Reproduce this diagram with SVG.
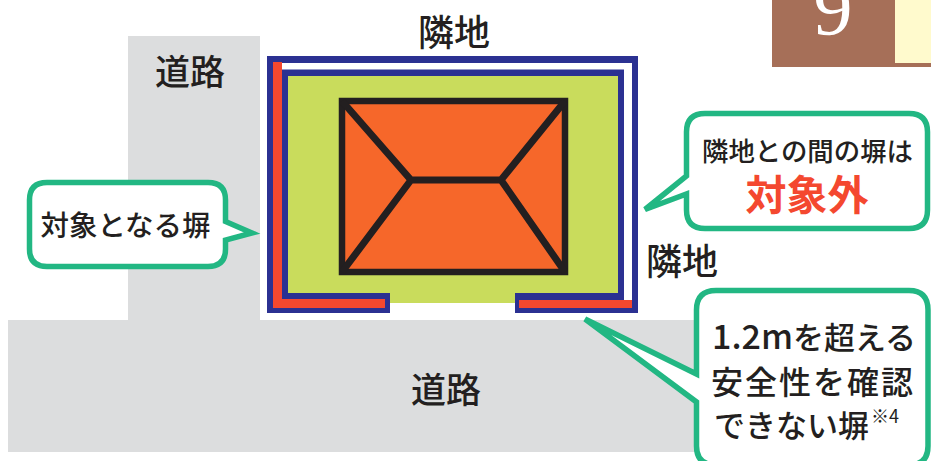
<svg xmlns="http://www.w3.org/2000/svg" width="931" height="461" viewBox="0 0 931 461">
<style>
text{font-family:"Noto Sans CJK JP","Noto Sans",sans-serif;fill:#231f20;font-weight:500}
.bubble{fill:#fff;stroke:#22b783;stroke-width:5.500;stroke-linejoin:miter}
.m{text-anchor:middle}
.ridge{fill:none;stroke:#231f20;stroke-width:7}
</style>
<rect width="931" height="461" fill="#fff"/>
<g id="roads">
<path d="M128 36H260V320H700V452H8V320H128Z" fill="#dcddde"/>
</g>
<g id="tab">
<rect x="772" y="0" width="159" height="67" fill="#a66f58"/>
<rect x="895" y="0" width="36" height="63" fill="#fffacd"/>
<text x="833" y="34" class="m" style="font-family:'Liberation Serif',serif;fill:#fff;font-weight:400" font-size="78">9</text>
</g>
<g id="site">
<path d="M288 76H618V303H288Z" fill="#c9dc5c"/>
<path fill-rule="evenodd" fill="#2b3192" d="M267 56H638V313H515V293H618V76H288V293H390V313H267ZM273 63V308H385V299H282V69H624V300H519V308H632V63Z"/>
<rect x="624" y="63" width="7.500" height="237" fill="#fff"/>
<rect x="282" y="63" width="349.500" height="6.500" fill="#fff"/>
<path d="M273 62H282V299H385V308H273Z" fill="#f4482f"/>
<rect x="519" y="300" width="113" height="8" fill="#f4482f"/>
</g>
<g id="house">
<rect x="342" y="101" width="223" height="171" fill="#f6672a" stroke="#231f20" stroke-width="6.500"/>
<path class="ridge" d="M342 101L411 180H501L565 101M342 272L411 180M501 180L565 272"/>
</g>
<g id="callout-left">
<path class="bubble" d="M47 182.500H208Q225.500 182.500 225.500 200V221.500L252 233L225.500 240V249Q225.500 266.500 208 266.500H47Q29.500 266.500 29.500 249V200Q29.500 182.500 47 182.500Z"/>
<text x="125.500" y="236" class="m" font-size="28.500">対象となる塀</text>
</g>
<g id="callout-right">
<path class="bubble" d="M705 113.500H909Q927.500 113.500 927.500 132V210Q927.500 228.500 909 228.500H705Q686.500 228.500 686.500 210V194L645 209.500L686.500 176V132Q686.500 113.500 705 113.500Z"/>
<text x="807.500" y="161" class="m" font-size="26.400">隣地との間の塀は</text>
<text x="807" y="210" class="m" font-size="41" style="fill:#f4482f;font-weight:700">対象外</text>
</g>
<g id="callout-bottom">
<path class="bubble" d="M716 290.500H909Q928 290.500 928 310V446Q928 465 909 465H716Q696.500 465 696.500 446V402L585 319L696.500 374V310Q696.500 290.500 716 290.500Z"/>
<text x="712" y="349" font-size="31"><tspan font-size="34">1.2m</tspan>を超える</text>
<text x="711" y="394" font-size="32" letter-spacing="2">安全性を確認</text>
<text x="714" y="437" font-size="31">できない塀</text>
<text x="871" y="423" font-size="18" style="font-weight:400">※4</text>
</g>
<g id="labels">
<text x="454" y="46" class="m" font-size="36">隣地</text>
<text x="190" y="85" class="m" font-size="35">道路</text>
<text x="682" y="275" class="m" font-size="36">隣地</text>
<text x="446" y="403" class="m" font-size="35">道路</text>
</g>
<g id="connectors"></g>
</svg>
